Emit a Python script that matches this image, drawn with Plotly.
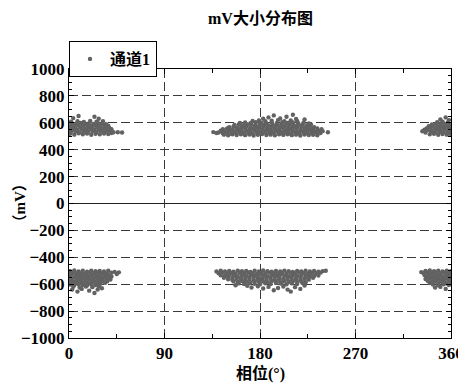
import plotly.graph_objects as go

# ---- data (phase in degrees, amplitude in mV) ----
upper_a = [(1,518),(5,512),(9,522),(13,515),(17,520),(21,511),(25,519),(29,514),(33,521),(37,516),(40,524),
           (2,533),(6,538),(10,530),(14,536),(18,532),(22,539),(26,531),(30,537),(34,533),(38,535),(42,530),
           (0,548),(4,552),(8,546),(12,554),(16,549),(20,553),(24,547),(28,551),(32,555),(36,548),(40,552),
           (2,566),(6,562),(10,568),(14,563),(18,567),(22,561),(26,569),(30,564),(34,566),(38,562),
           (1,581),(5,578),(9,584),(13,579),(17,583),(21,577),(25,582),(29,580),(33,585),(37,578),
           (3,596),(7,592),(11,598),(15,593),(19,597),(23,591),(27,599),(31,594),(35,590),
           (2,608),(8,612),(14,606),(20,614),(26,609),(32,611),
           (4,635),(9,650),(24,645),(28,630),(46,530),(50,528)]

upper_b = [(146,512),(150,507),(154,514),(158,509),(162,515),(166,508),(170,513),(174,506),(178,511),(182,516),(186,509),(190,512),(194,507),(198,514),(202,510),(206,515),(210,508),(214,512),(218,506),(222,513),(226,509),(230,511),(234,507),
           (141,528),(145,522),(149,527),(153,521),(157,526),(161,530),(165,523),(169,528),(173,521),(177,527),(181,524),(185,529),(189,522),(193,526),(197,531),(201,523),(205,527),(209,521),(213,529),(217,524),(221,528),(225,522),(229,526),(233,530),(237,524),
           (143,541),(147,536),(151,543),(155,538),(159,544),(163,537),(167,542),(171,539),(175,545),(179,536),(183,541),(187,544),(191,538),(195,543),(199,537),(203,542),(207,545),(211,539),(215,536),(219,543),(223,540),(227,544),(231,537),(235,541),(239,538),
           (145,553),(149,558),(154,551),(158,557),(162,554),(166,559),(170,552),(174,556),(178,560),(182,553),(186,557),(190,551),(194,558),(198,554),(202,560),(206,552),(210,556),(214,559),(218,553),(222,557),(226,551),(230,555),(234,558),
           (151,568),(155,573),(159,566),(163,571),(167,575),(171,567),(175,572),(179,569),(183,574),(187,566),(191,571),(195,575),(199,568),(203,573),(207,567),(211,572),(215,569),(219,574),(223,566),(227,571),(231,568),
           (156,584),(160,588),(164,582),(168,587),(172,590),(176,583),(180,589),(184,585),(188,581),(192,588),(196,584),(200,590),(204,583),(208,587),(212,582),(216,589),(220,585),(224,581),(228,587),
           (161,599),(166,603),(171,597),(176,604),(181,600),(186,596),(191,602),(196,598),(201,605),(206,599),(211,603),(216,597),(221,601),(226,596),
           (173,613),(179,618),(185,611),(191,616),(197,620),(203,612),(209,617),(215,614),
           (136,531),(139,524),(183,630),(188,640),(193,655),(199,632),(205,645),(211,660),(214,628),(222,625),(244,530),(238,552)]

upper_c = [(340,514),(344,519),(348,511),(352,516),(356,512),(359,518),
           (336,528),(341,533),(345,527),(349,532),(353,529),(357,534),(360,527),
           (338,546),(342,541),(346,547),(350,543),(354,548),(358,542),
           (337,558),(341,563),(345,557),(349,562),(353,559),(357,564),(360,556),
           (339,574),(343,578),(347,572),(351,577),(355,573),(359,579),
           (342,588),(346,593),(350,587),(354,592),(358,589),
           (347,604),(352,608),(357,602),
           (333,537),(335,548),(350,625),(355,640),(358,620)]

lower_a = [(1,-503),(5,-498),(9,-505),(13,-500),(17,-507),(21,-499),(25,-504),(29,-501),(33,-506),(37,-499),
           (0,-517),(4,-512),(8,-519),(12,-514),(16,-520),(20,-513),(24,-518),(28,-511),(32,-516),(36,-521),(40,-514),
           (2,-532),(6,-527),(10,-534),(14,-529),(18,-535),(22,-528),(26,-533),(30,-526),(34,-531),(38,-536),
           (1,-544),(5,-549),(9,-542),(13,-547),(17,-550),(21,-543),(25,-548),(29,-541),(33,-546),(37,-550),(40,-543),
           (3,-561),(7,-556),(11,-563),(15,-558),(19,-564),(23,-557),(27,-562),(31,-555),(35,-560),(39,-565),
           (0,-574),(4,-579),(8,-572),(12,-577),(16,-580),(20,-573),(24,-578),(28,-571),(32,-576),(36,-579),
           (2,-591),(6,-586),(10,-593),(14,-588),(18,-594),(22,-587),(26,-592),(30,-585),(34,-590),
           (1,-603),(5,-608),(9,-601),(13,-606),(17,-609),(21,-602),(25,-607),(29,-600),
           (4,-619),(10,-624),(16,-617),(22,-622),(28,-618),
           (3,-640),(8,-655),(12,-635),(19,-648),(24,-665),(27,-640),(31,-630),(43,-508),(47,-512),(45,-525)]

lower_b = [(139,-505),(143,-500),(147,-506),(151,-501),(155,-507),(159,-499),(163,-504),(167,-502),(171,-508),(175,-500),(179,-505),(183,-498),(187,-503),(191,-507),(195,-501),(199,-506),(203,-499),(207,-504),(211,-508),(215,-502),(219,-506),(223,-500),(227,-505),(231,-501),(235,-507),(239,-503),(242,-500),
           (141,-519),(145,-514),(149,-521),(153,-516),(157,-522),(161,-515),(165,-520),(169,-513),(173,-518),(177,-523),(181,-516),(185,-521),(189,-514),(193,-519),(197,-524),(201,-517),(205,-522),(209,-515),(213,-520),(217,-513),(221,-518),(225,-523),(229,-516),(233,-521),(237,-514),
           (143,-533),(147,-538),(151,-531),(155,-536),(159,-540),(163,-532),(167,-537),(171,-534),(175,-539),(179,-531),(183,-536),(187,-540),(191,-533),(195,-538),(199,-531),(203,-536),(207,-540),(211,-534),(215,-538),(219,-532),(223,-537),(227,-533),(231,-539),(235,-535),
           (146,-552),(150,-547),(154,-554),(158,-549),(162,-555),(166,-548),(170,-553),(174,-546),(178,-551),(182,-556),(186,-549),(190,-554),(194,-547),(198,-552),(202,-557),(206,-550),(210,-545),(214,-553),(218,-548),(222,-555),(226,-549),(230,-552),
           (150,-563),(154,-568),(158,-561),(162,-566),(166,-570),(170,-562),(174,-567),(178,-564),(182,-569),(186,-561),(190,-566),(194,-571),(198,-563),(202,-568),(206,-562),(210,-567),(214,-564),(218,-569),(222,-561),(226,-566),
           (155,-579),(159,-584),(163,-577),(167,-582),(171,-586),(175,-578),(179,-583),(183,-580),(187,-585),(191,-577),(195,-582),(199,-586),(203,-579),(207,-584),(211,-578),(215,-583),(219,-580),(223,-585),
           (160,-594),(165,-598),(170,-592),(175,-597),(180,-600),(185,-593),(190,-598),(195,-591),(200,-596),(205,-601),(210,-594),(215,-599),(220,-592),
           (168,-612),(172,-625),(178,-615),(183,-632),(188,-620),(193,-645),(197,-628),(202,-618),(206,-640),(209,-655),(213,-622),(218,-635),(222,-610),(157,-608)]

lower_c = [(336,-502),(340,-497),(344,-504),(348,-499),(352,-505),(356,-500),(360,-503),
           (334,-516),(338,-512),(342,-519),(346,-514),(350,-520),(354,-513),(358,-518),
           (335,-532),(339,-527),(343,-534),(347,-529),(351,-535),(355,-528),(359,-533),
           (337,-544),(341,-549),(345,-542),(349,-547),(353,-550),(357,-543),(360,-548),
           (336,-561),(340,-556),(344,-563),(348,-558),(352,-564),(356,-557),(359,-562),
           (338,-574),(342,-579),(346,-572),(350,-577),(354,-580),(358,-573),
           (340,-591),(344,-586),(348,-593),(352,-588),(356,-594),(360,-587),
           (343,-603),(348,-608),(353,-601),(358,-606),
           (345,-625),(350,-620),(355,-635),(332,-510)]

x_ticks = [0, 90, 180, 270, 360]
y_ticks = [1000, 800, 600, 400, 200, 0, -200, -400, -600, -800, -1000]
y_tick_labels = ["1000", "800", "600", "400", "200", "0", "\u2212200", "\u2212400", "\u2212600", "\u2212800", "\u22121000"]

series_name = "通道1"
title_text = "mV大小分布图"
x_title = "相位(°)"
y_title = "（mV）"

pts = upper_a + upper_b + upper_c + lower_a + lower_b + lower_c
xs = [p[0] for p in pts]
ys = [p[1] for p in pts]

FONT = "Liberation Serif, 'Noto Sans CJK SC', serif"
GRID = "#3a3a3a"
# page body has an 8px margin, so the figure is drawn 8px in from the top-left
OFF = 8
W, H = 466 - OFF, 389 - OFF
ML, MR, MT, MB = 69 - OFF, 15, 69 - OFF, 51
PW, PH = W - ML - MR, H - MT - MB


def py(pixel_y):
    return (H - MB - (pixel_y - OFF)) / PH


def px(pixel_x):
    return ((pixel_x - OFF) - ML) / PW


fig = go.Figure()
fig.add_trace(go.Scatter(
    x=xs, y=ys, mode="markers", name=series_name, showlegend=True,
    marker=dict(size=4.4, color="#626262", line=dict(width=0)),
))

axis_common = dict(
    automargin=False,
    showline=True, linecolor="black", linewidth=1, mirror="allticks",
    ticks="inside", ticklen=5, tickcolor="black",
    showgrid=True, gridcolor=GRID, gridwidth=1, griddash="9px,4px",
    tickfont=dict(family=FONT, size=17, color="black", weight="bold"),
)

fig.update_xaxes(
    range=[0, 360], tickvals=x_ticks, ticktext=[str(v) for v in x_ticks],
    zeroline=False,
    minor=dict(dtick=45, tick0=0, ticks="inside", ticklen=4, tickcolor="black", showgrid=False),
    **axis_common,
)
fig.update_yaxes(
    range=[-1000, 1000], tickvals=y_ticks, ticktext=y_tick_labels,
    zeroline=True, zerolinecolor="#222", zerolinewidth=1,
    minor=dict(dtick=50, tick0=0, ticks="inside", ticklen=3, tickcolor="black", showgrid=False),
    **axis_common,
)

fig.update_layout(
    width=W, height=H,
    margin=dict(l=ML, r=MR, t=MT, b=MB, autoexpand=False),
    paper_bgcolor="white", plot_bgcolor="white",
    showlegend=True,
    legend=dict(
        x=0, y=py(41), xanchor="left", yanchor="top",
        bordercolor="black", borderwidth=1, bgcolor="white",
        font=dict(family=FONT, size=16, color="black", weight="bold"),
        itemsizing="trace", tracegroupgap=0, itemwidth=30,
    ),
    annotations=[
        dict(text=title_text, x=0.5, xref="paper", y=py(18), yref="paper", yanchor="middle",
             showarrow=False, font=dict(family=FONT, size=16, color="black", weight="bold")),
        dict(text=x_title, x=0.5, xref="paper", y=py(373), yref="paper", yanchor="middle",
             showarrow=False, font=dict(family=FONT, size=16, color="black", weight="bold")),
        dict(text=y_title, x=px(19), xref="paper", y=0.5, yref="paper", textangle=-90,
             xanchor="center", showarrow=False,
             font=dict(family=FONT, size=15, color="black", weight="bold")),
    ],
)

fig.write_html("out.html")
